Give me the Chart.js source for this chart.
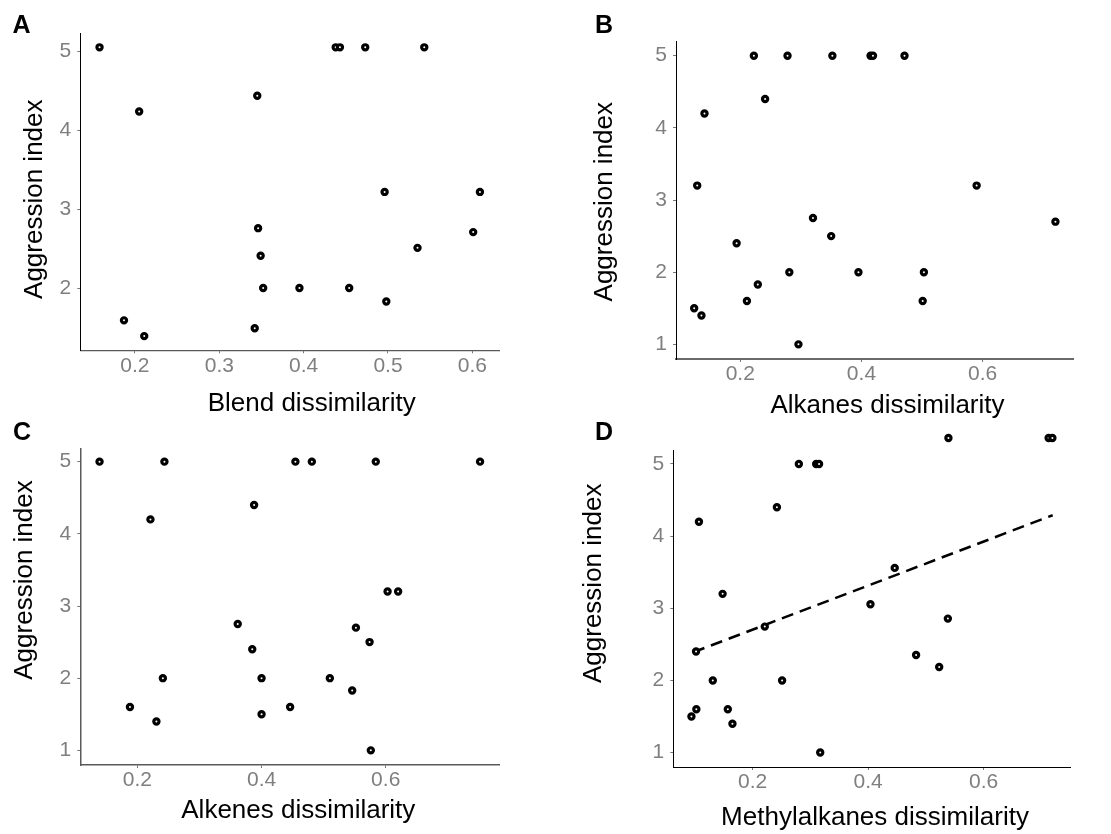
<!DOCTYPE html>
<html>
<head>
<meta charset="utf-8">
<script src="https://cdn.jsdelivr.net/npm/chart.js@4.4.1/dist/chart.umd.min.js"></script>
<style>
  html, body { margin: 0; padding: 0; background: #fff; }
  body { width: 1111px; height: 834px; position: relative; overflow: hidden; }
  canvas { position: absolute; }
</style>
</head>
<body>
<canvas id="chartA" width="555" height="425" style="left:0px;top:0px"></canvas>
<canvas id="chartB" width="556" height="425" style="left:555px;top:0px"></canvas>
<canvas id="chartC" width="555" height="424" style="left:0px;top:410px"></canvas>
<canvas id="chartD" width="556" height="424" style="left:555px;top:410px"></canvas>
<script>
// ==============================
// DATA
// ==============================
const yTicks = [1, 2, 3, 4, 5];
const blendTicks = [0.2, 0.3, 0.4, 0.5, 0.6];
const otherTicks = [0.2, 0.4, 0.6];

const blendX = [0.158, 0.205, 0.187, 0.211, 0.345, 0.438, 0.443, 0.473, 0.543, 0.496,
  0.609, 0.346, 0.349, 0.352, 0.395, 0.454, 0.498, 0.535, 0.601, 0.342];
const blendY = [5.055, 4.24, 1.59, 1.39, 4.44, 5.055, 5.055, 5.055, 5.055, 3.22,
  3.22, 2.76, 2.41, 2.0, 2.0, 2.0, 1.83, 2.51, 2.71, 1.49];

const alkanesX = [0.2225, 0.278, 0.352, 0.415, 0.419, 0.471, 0.241, 0.141, 0.129, 0.590,
  0.320, 0.720, 0.350, 0.194, 0.281, 0.395, 0.503, 0.229, 0.211, 0.501, 0.124, 0.136, 0.296];
const alkanesY = [5, 5, 5, 5, 5, 5, 4.4, 4.2, 3.2, 3.2,
  2.75, 2.7, 2.5, 2.4, 2, 2, 2, 1.83, 1.6, 1.6, 1.5, 1.4, 1.0];

const alkenesX = [0.139, 0.2435, 0.4545, 0.481, 0.584, 0.752, 0.388, 0.221, 0.603, 0.620,
  0.3616, 0.552, 0.574, 0.385, 0.241, 0.400, 0.510, 0.546, 0.188, 0.446, 0.400, 0.2306, 0.576];
const alkenesY = [5, 5, 5, 5, 5, 5, 4.4, 4.2, 3.2, 3.2,
  2.75, 2.7, 2.5, 2.4, 2, 2, 2, 1.83, 1.6, 1.6, 1.5, 1.4, 1.0];

const methylX = [0.539, 0.7125, 0.719, 0.280, 0.310, 0.315, 0.242, 0.107, 0.446, 0.148,
  0.404, 0.538, 0.221, 0.102, 0.483, 0.523, 0.131, 0.251, 0.1025, 0.157, 0.094, 0.165, 0.317];
const methylY = [5.36, 5.36, 5.36, 5, 5, 5, 4.4, 4.2, 3.56, 3.2,
  3.056, 2.857, 2.746, 2.4, 2.353, 2.187, 2, 2, 1.6, 1.6, 1.5, 1.4, 1.0];

// fitted trend line for methylalkanes (ends of the dashed line)
const fitX = [0.097, 0.7195];
const fitY = [2.39, 4.29];

// ==============================
// PANEL LAYOUT (page pixels)
// ==============================
const FONT = "'Liberation Sans', Arial, Helvetica, sans-serif";

const panels = [
  {
    id: "chartA", letter: "A", xs: blendX, ys: blendY, ticks: blendTicks,
    xTitle: "Blend dissimilarity",
    canvas: { x: 0, y: 0, w: 555, h: 425 },
    area: { l: 80.3, t: 33.3, r: 499, b: 350.3 },
    xRange: [0.1352, 0.6316], yRange: [1.21, 5.233],
    xAxis: { color: "#5a5a5a", width: 1.2 }, yAxis: { color: "#000", width: 1 },
    letterPos: [12.5, 33.3], xTitlePos: [311.7, 410.7], yTitlePos: [41.9, 199.2],
  },
  {
    id: "chartB", letter: "B", xs: alkanesX, ys: alkanesY, ticks: otherTicks,
    xTitle: "Alkanes dissimilarity",
    canvas: { x: 555, y: 0, w: 556, h: 425 },
    area: { l: 676, t: 41.7, r: 1073, b: 359 },
    xRange: [0.094, 0.749], yRange: [0.797, 5.194],
    xAxis: { color: "#6a6a6a", width: 2 }, yAxis: { color: "#000", width: 1 },
    letterPos: [595, 33.3], xTitlePos: [887.5, 413.3], yTitlePos: [612, 201.7],
  },
  {
    id: "chartC", letter: "C", xs: alkenesX, ys: alkenesY, ticks: otherTicks,
    xTitle: "Alkenes dissimilarity",
    canvas: { x: 0, y: 410, w: 555, h: 424 },
    area: { l: 80.3, t: 448.3, r: 499, b: 765 },
    xRange: [0.108, 0.7825], yRange: [0.797, 5.185],
    xAxis: { color: "#5a5a5a", width: 1.5 }, yAxis: { color: "#5a5a5a", width: 1.5 },
    letterPos: [13, 440], xTitlePos: [298.3, 818.3], yTitlePos: [31.9, 580],
  },
  {
    id: "chartD", letter: "D", xs: methylX, ys: methylY, ticks: otherTicks,
    xTitle: "Methylalkanes dissimilarity", fit: true,
    canvas: { x: 555, y: 410, w: 556, h: 424 },
    area: { l: 673.3, t: 450, r: 1070, b: 767 },
    xRange: [0.0626, 0.7495], yRange: [0.80, 5.194],
    xAxis: { color: "#000", width: 1 }, yAxis: { color: "#000", width: 1 },
    letterPos: [595, 440], xTitlePos: [875, 825], yTitlePos: [601.3, 583.3],
  },
];

// ==============================
// PLUGINS
// ==============================
// letters + axis titles, placed like the original figure
const panelText = {
  id: "panelText",
  afterDraw(chart, args, opts) {
    const ctx = chart.ctx;
    const c = opts.canvas;
    ctx.save();
    ctx.fillStyle = "#000";
    ctx.textBaseline = "alphabetic";

    ctx.font = "bold 25px " + FONT;
    ctx.textAlign = "left";
    ctx.fillText(opts.letter, opts.letterPos[0] - c.x, opts.letterPos[1] - c.y);

    ctx.font = "26px " + FONT;
    ctx.textAlign = "center";
    ctx.fillText(opts.xTitle, opts.xTitlePos[0] - c.x, opts.xTitlePos[1] - c.y);

    ctx.translate(opts.yTitlePos[0] - c.x, opts.yTitlePos[1] - c.y);
    ctx.rotate(-Math.PI / 2);
    ctx.fillText("Aggression index", 0, 0);
    ctx.restore();
  },
};

// points that sit above the panel (D) are skipped by Chart.js, draw them anyway
const outsidePoints = {
  id: "outsidePoints",
  afterDatasetsDraw(chart) {
    const area = chart.chartArea;
    const whole = { left: 0, top: 0, right: chart.width, bottom: chart.height };
    chart.getDatasetMeta(0).data.forEach((pt) => {
      if (pt.y < area.top || pt.y > area.bottom) pt.draw(chart.ctx, whole);
    });
  },
};

// ==============================
// BUILD CHARTS
// ==============================
function pickTicks(list) {
  return (scale) => {
    scale.ticks = list
      .filter((v) => v >= scale.min && v <= scale.max)
      .map((v) => ({ value: v }));
  };
}

panels.forEach((p) => {
  const c = p.canvas;
  const points = p.xs.map((x, i) => ({ x, y: p.ys[i] }));

  const datasets = [
    {
      type: "scatter",
      data: points,
      pointRadius: 2.6,
      pointBorderWidth: 3.2,
      pointBackgroundColor: "#fff",
      pointBorderColor: "#000",
      clip: false,
      order: 1,
    },
  ];

  if (p.fit) {
    datasets.push({
      type: "line",
      data: fitX.map((x, i) => ({ x, y: fitY[i] })),
      borderColor: "#000",
      borderWidth: 2.5,
      borderDash: [12, 7],
      pointRadius: 0,
      fill: false,
      order: 2,
    });
  }

  new Chart(document.getElementById(p.id), {
    type: "scatter",
    data: { datasets },
    options: {
      responsive: false,
      animation: false,
      events: [],
      layout: {
        padding: {
          left: 0,
          bottom: 0,
          top: p.area.t - c.y,
          right: c.x + c.w - p.area.r,
        },
      },
      plugins: {
        legend: { display: false },
        tooltip: { enabled: false },
        panelText: {
          canvas: c,
          letter: p.letter,
          xTitle: p.xTitle,
          letterPos: p.letterPos,
          xTitlePos: p.xTitlePos,
          yTitlePos: p.yTitlePos,
        },
      },
      scales: {
        x: {
          type: "linear",
          min: p.xRange[0],
          max: p.xRange[1],
          afterBuildTicks: pickTicks(p.ticks),
          afterFit: (s) => { s.height = c.y + c.h - p.area.b; },
          border: { display: true, color: p.xAxis.color, width: p.xAxis.width },
          grid: { display: true, drawOnChartArea: false, tickLength: 3, color: "#777" },
          ticks: {
            color: "#7f7f7f",
            padding: 0,
            maxRotation: 0,
            font: { family: FONT, size: 21 },
            callback: (v) => v.toFixed(1),
          },
        },
        y: {
          type: "linear",
          min: p.yRange[0],
          max: p.yRange[1],
          afterBuildTicks: pickTicks(yTicks),
          afterFit: (s) => { s.width = p.area.l - c.x; },
          border: { display: true, color: p.yAxis.color, width: p.yAxis.width },
          grid: { display: true, drawOnChartArea: false, tickLength: 3, color: "#777" },
          ticks: {
            color: "#7f7f7f",
            padding: 6,
            font: { family: FONT, size: 21 },
            callback: (v) => String(v),
          },
        },
      },
    },
    plugins: [panelText, outsidePoints],
  });
});
</script>
</body>
</html>
